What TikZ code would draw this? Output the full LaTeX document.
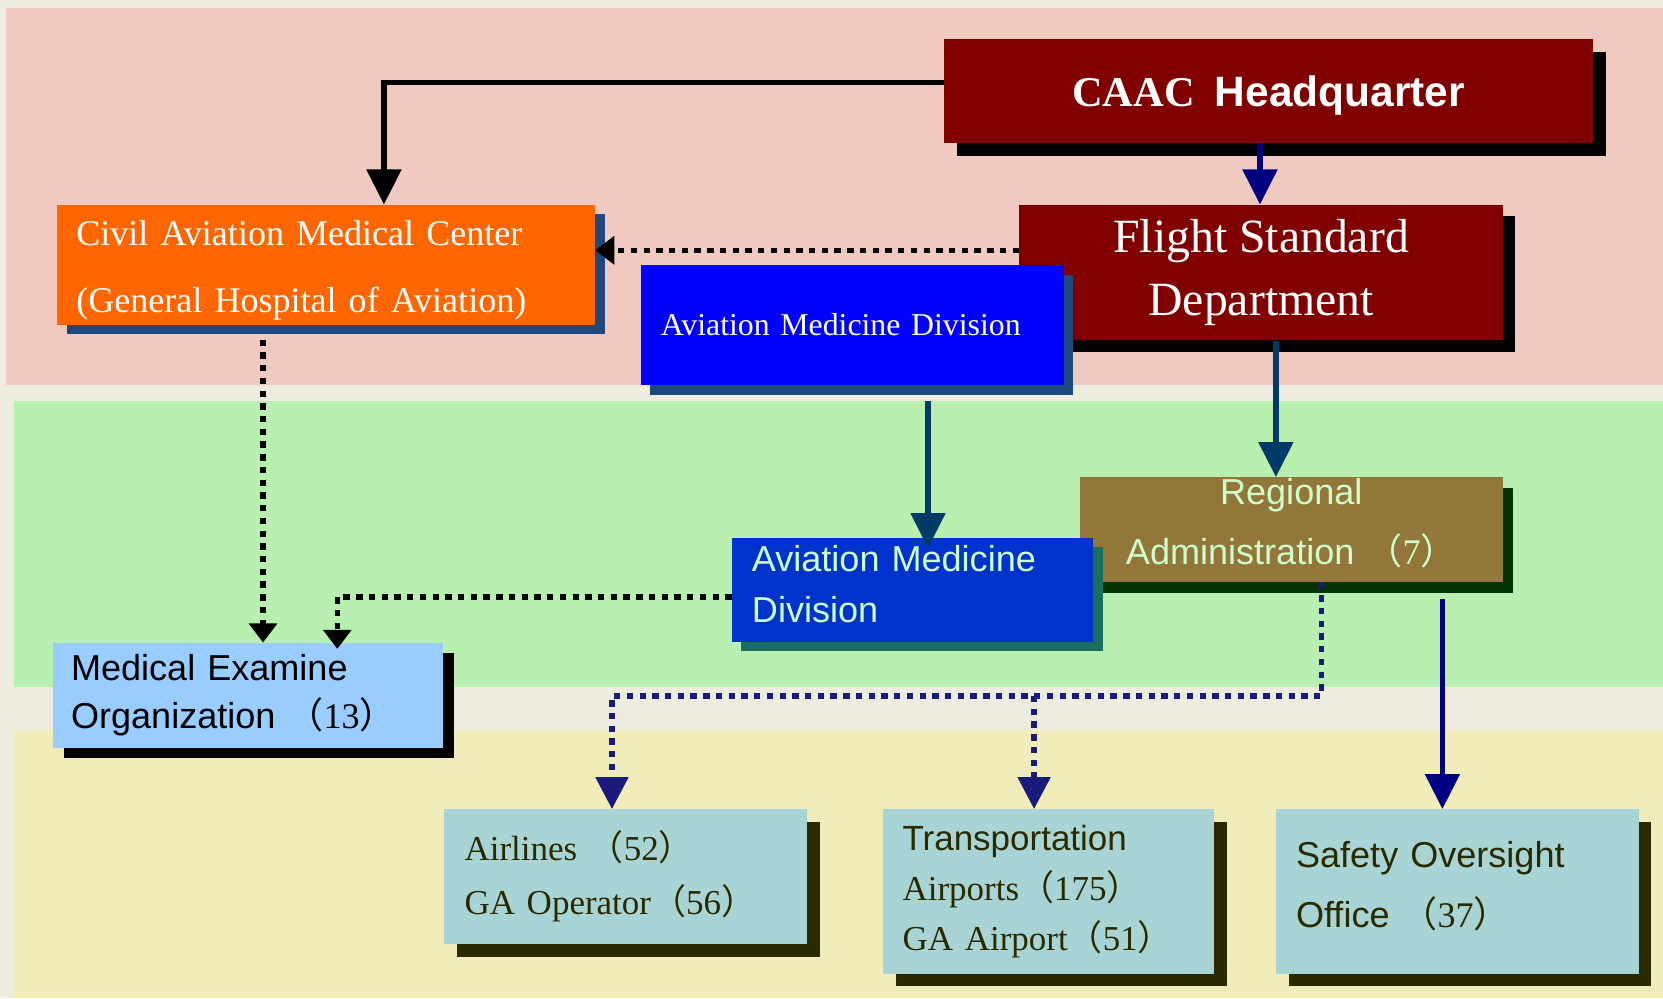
\documentclass[tikz,border=0pt]{standalone}
\usepackage{fontspec}
\setmainfont{Liberation Serif}
\setsansfont{Liberation Sans}
\newfontfamily\cjk{Noto Sans CJK SC}
\usetikzlibrary{arrows.meta, shadows}

\definecolor{bgbeige}{HTML}{EEEBE0}
\definecolor{pinkband}{HTML}{F0C9C0}
\definecolor{greenband}{HTML}{B8F0B0}
\definecolor{yellowband}{HTML}{F0EDBB}
\definecolor{maroonbox}{HTML}{800000}
\definecolor{orangebox}{HTML}{FF6600}
\definecolor{shadowblue}{HTML}{1F497D}
\definecolor{bluebox}{HTML}{0000FF}
\definecolor{royalbox}{HTML}{0033CC}
\definecolor{shadowteal}{HTML}{1A6E5C}
\definecolor{brownbox}{HTML}{92763A}
\definecolor{shadowgreen}{HTML}{003300}
\definecolor{mintext}{HTML}{CCFFCC}
\definecolor{skybox}{HTML}{99CCFF}
\definecolor{tealbox}{HTML}{A8D4D6}
\definecolor{olivedark}{HTML}{2A2A00}
\definecolor{navyline}{HTML}{000080}
\definecolor{deepline}{HTML}{003A66}
\definecolor{navydot}{HTML}{1A1A7A}

\newcommand{\tally}[1]{{\cjk （}{\rmfamily #1}{\cjk ）}}

\begin{document}
\begin{tikzpicture}[x=1pt, y=-1pt,
	orgbox/.style={rectangle, inner ysep=0pt},
	boxshadow/.style 2 args={drop shadow={shadow xshift=#1, shadow yshift=-#1, fill=#2, opacity=1}},
	solidarrow/.style={line width=5pt, -{Triangle[length=33pt,width=32pt]}},
	dotarrow/.style={line width=5pt, dash pattern=on 6pt off 6pt, -{Triangle[length=18pt,width=26pt]}},
	bigdotarrow/.style={line width=5pt, dash pattern=on 6pt off 6pt, -{Triangle[length=30pt,width=30pt]}}]
	% bands
	\path[use as bounding box, fill=bgbeige] (0,0) rectangle (1568,941);
	\fill[pinkband] (6,8) rectangle (1568,363);
	\fill[greenband] (13,378) rectangle (1568,648);
	\fill[yellowband] (13,688) rectangle (1568,941);
	% headquarter level
	\node[orgbox, fill=maroonbox, minimum width=612pt, minimum height=98pt, boxshadow={12pt}{black}, text=white, font={\fontsize{40}{48}\selectfont}] (caac) at (1196,86) {\raisebox{-4pt}[\height][\depth]{\bfseries CAAC\hspace{19pt}{\sffamily\bfseries Headquarter}}};
	\node[orgbox, fill=maroonbox, minimum width=456pt, minimum height=128pt, boxshadow={11pt}{black}, text=white, align=center, font={\fontsize{45}{60}\selectfont}] (fsd) at (1189,257) {Flight Standard\\Department};
	\node[orgbox, fill=bluebox, text width=361pt, inner xsep=19pt, minimum height=113pt, boxshadow={9pt}{shadowblue}, text=white, align=left, font={\fontsize{30}{36}\selectfont}] (amdhq) at (803.5,306.5) {Aviation Medicine Division};
	\node[orgbox, fill=orangebox, text width=471pt, inner xsep=18pt, minimum height=113pt, boxshadow={9pt}{shadowblue}, text=white, align=left, font={\fontsize{34}{63}\selectfont}] (cmc) at (307.5,249.5) {\rule{0pt}{35pt}Civil Aviation Medical Center\\(General Hospital of Aviation)};
	% regional level
	\node[orgbox, fill=brownbox, text width=379pt, inner xsep=10pt, minimum height=99pt, boxshadow={10pt}{shadowgreen}, text=mintext, align=center, font={\sffamily\fontsize{34}{56}\selectfont}] (reg) at (1217.5,499.5) {Regional\\Administration~\tally{7}\rule[-16pt]{0pt}{1pt}};
	\node[orgbox, fill=royalbox, text width=303pt, inner xsep=19pt, minimum height=98pt, boxshadow={9pt}{shadowteal}, text=mintext, align=left, font={\sffamily\fontsize{34}{48}\selectfont}] (amdreg) at (860.5,556) {Aviation Medicine\\Division\rule[-10pt]{0pt}{1pt}};
	\node[orgbox, fill=skybox, text width=334pt, inner xsep=17pt, minimum height=99pt, boxshadow={10pt}{black}, text=black, align=left, font={\sffamily\fontsize{34}{46}\selectfont}] (meo) at (234,655.5) {Medical Examine\\Organization~\tally{13}};
	% operators
	\node[orgbox, fill=tealbox, text width=304pt, inner xsep=19pt, minimum height=127pt, boxshadow={12pt}{olivedark}, text=olivedark, align=left, font={\fontsize{33}{51}\selectfont}] (air) at (590,826.5) {Airlines~\tally{52}\\GA Operator\tally{56}};
	\node[orgbox, fill=tealbox, text width=276pt, inner xsep=18pt, minimum height=155pt, boxshadow={12pt}{olivedark}, text=olivedark, align=left, font={\fontsize{33}{47}\selectfont}] (trans) at (989,840.5) {{\sffamily Transportation}\\Airports\tally{175}\\GA Airport\tally{51}};
	\node[orgbox, fill=tealbox, text width=304pt, inner xsep=19pt, minimum height=155pt, boxshadow={12pt}{olivedark}, text=olivedark, align=left, font={\sffamily\fontsize{34}{57}\selectfont}] (saf) at (1374,840.5) {Safety Oversight\\Office~\tally{37}\rule[-13pt]{0pt}{1pt}};
	% connectors
	\draw[solidarrow, black] ([yshift=8pt]caac.west) -| ([xshift=54.5pt]cmc.north);
	\draw[solidarrow, navyline] ([xshift=-8pt]caac.south) -- ([xshift=-1pt]fsd.north);
	\draw[dotarrow, black] ([yshift=21pt]fsd.west) -- ([yshift=13.5pt]cmc.east);
	\draw[solidarrow, deepline] ([xshift=14pt]fsd.south) -- ([xshift=-14.5pt]reg.north);
	\draw[solidarrow, deepline] ([xshift=71.5pt,yshift=-15pt]amdhq.south) -- ([xshift=14.5pt,yshift=-10pt]amdreg.north);
	\draw[dotarrow, black] ([xshift=-59.5pt,yshift=-14pt]cmc.south) -- ([xshift=14pt]meo.north);
	\draw[dotarrow, black] ([yshift=-7pt]amdreg.west) -| ([xshift=84pt,yshift=-6pt]meo.north);
	\coordinate (rail) at ([xshift=28.5pt,yshift=-107pt]reg.south);
	\draw[bigdotarrow, navydot] ([xshift=28.5pt]reg.south) -- (rail) -| ([xshift=-13pt]air.north);
	\draw[bigdotarrow, navydot] ([xshift=-14pt]trans.north |- rail) -- ([xshift=-14pt]trans.north);
	\draw[solidarrow, navyline] ([xshift=142.5pt,yshift=-16pt]reg.south) -- ([xshift=-14pt]saf.north);
\end{tikzpicture}
\end{document}
